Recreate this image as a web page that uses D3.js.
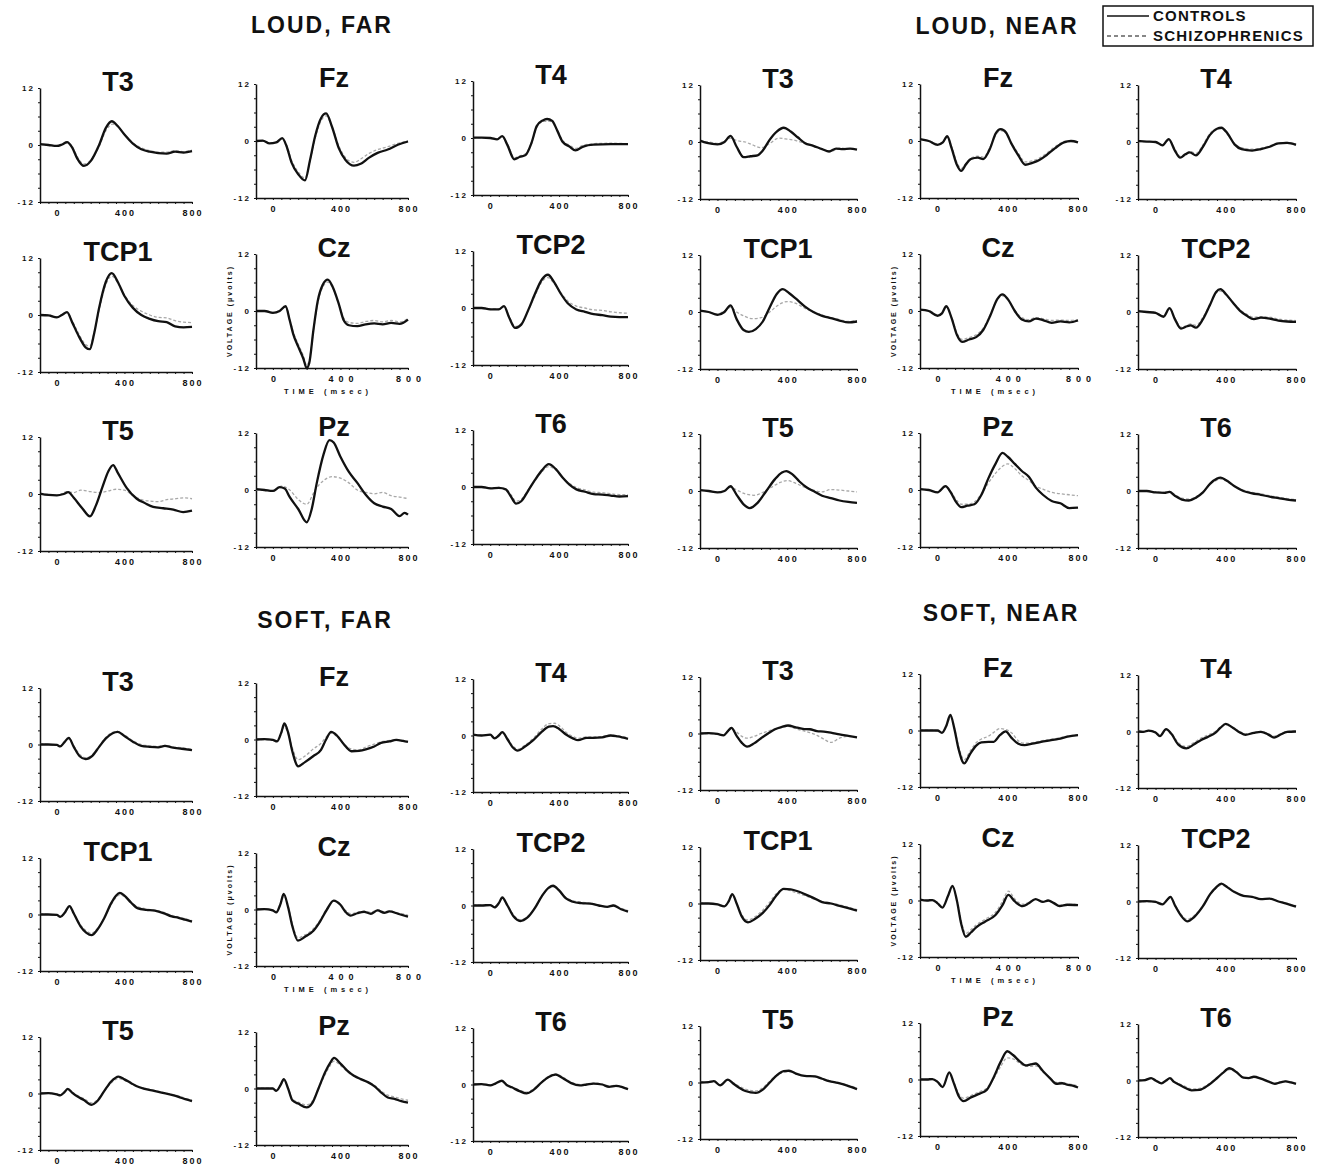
<!DOCTYPE html>
<html>
<head>
<meta charset="utf-8">
<script src="https://cdn.jsdelivr.net/npm/d3@7"></script>
<style>
  body { margin: 0; background: #fff; }
  text { font-family: 'Liberation Sans', Arial, sans-serif; fill: #111; }
</style>
</head>
<body>
<script>
// electrode order inside each 3x3 block
const electrodes = ['T3', 'Fz', 'T4', 'TCP1', 'Cz', 'TCP2', 'T5', 'Pz', 'T6']
const conditions = ['LOUD, FAR', 'LOUD, NEAR', 'SOFT, FAR', 'SOFT, NEAR']
const groups = ['CONTROLS', 'SCHIZOPHRENICS']
const xTicks = [0, 400, 800]
const yTicks = [12, 0, -12]

// [msec, microvolts]
const loudFarControls = [
  [[-100,0.2],[-50,0],[0,-0.2],[30,0.1],[60,0.6],[90,-0.5],[120,-2.8],[160,-4.4],[200,-3.4],[250,0],[290,3.6],[325,5.0],[360,4.0],[400,2.2],[450,0.3],[500,-0.9],[550,-1.4],[600,-1.7],[650,-1.8],[700,-1.4],[750,-1.6],[800,-1.3]],
  [[-100,0],[-60,0.1],[-20,-0.5],[20,-0.3],[55,0.6],[80,-1],[110,-4.5],[150,-7],[190,-8.3],[220,-4],[250,1],[285,4.8],[315,5.8],[350,3],[390,-1.5],[430,-4],[480,-5.2],[520,-4.8],[570,-3.5],[620,-2.5],[680,-1.8],[740,-0.8],[800,-0.1]],
  [[-100,0.1],[-50,0.1],[0,0],[40,-0.3],[70,0.4],[100,-1.5],[140,-4.5],[170,-4],[205,-3.6],[240,-1],[270,2.5],[305,3.7],[330,4.0],[360,3.6],[390,1.5],[420,-0.8],[460,-1.8],[495,-2.6],[540,-1.8],[600,-1.4],[700,-1.3],[800,-1.3]],
  [[-100,0],[-50,-0.1],[0,-0.5],[30,0],[60,0.6],[90,-1.5],[130,-4.5],[170,-6.8],[195,-7.2],[220,-4],[250,1.5],[290,7],[325,8.8],[360,7],[400,4],[450,1.5],[500,0],[550,-0.8],[600,-1.3],[650,-1.5],[700,-2.4],[750,-2.6],[800,-2.5]],
  [[-100,0],[-50,0],[0,-0.4],[40,0],[75,1],[100,-2],[120,-4.8],[150,-7.5],[180,-10],[200,-12],[215,-11],[240,-4],[265,2],[295,5.5],[325,6.6],[355,5],[390,1.5],[420,-2],[450,-3],[500,-3.2],[550,-2.8],[600,-2.6],[650,-2.8],[700,-2.5],[750,-2.7],[800,-1.8]],
  [[-100,0],[-50,0],[0,-0.3],[50,-0.3],[80,0.4],[110,-2],[145,-4.2],[180,-3.5],[220,-0.5],[260,3],[300,6],[335,7],[370,5.5],[410,3],[450,1],[500,-0.3],[550,-0.8],[600,-1.3],[650,-1.5],[700,-1.8],[750,-1.9],[800,-1.9]],
  [[-100,0.1],[-50,-0.2],[0,-0.3],[40,0],[67,0.4],[100,-0.8],[150,-3],[196,-4.7],[230,-2.5],[270,1.5],[305,4.8],[333,6.1],[360,4.5],[413,1.3],[473,-1],[520,-1.9],[570,-2.7],[630,-3],[690,-3.3],[748,-3.8],[800,-3.5]],
  [[-100,0.2],[-50,0],[0,-0.2],[40,0.6],[70,0.3],[100,-1.5],[150,-4],[200,-6.8],[230,-4],[260,1.5],[300,7.5],[335,10.5],[360,10],[400,7],[450,3.8],[500,1.5],[550,-1],[600,-2.8],[650,-3.5],[700,-4],[750,-5.5],[780,-4.8],[800,-5.2]],
  [[-100,0],[-50,0],[0,-0.3],[50,-0.2],[90,-0.5],[120,-2],[150,-3.5],[180,-3],[220,-0.8],[260,1.5],[300,3.5],[340,4.8],[380,3.8],[420,2],[460,0.5],[500,-0.5],[550,-1],[600,-1.5],[650,-1.6],[700,-1.8],[750,-2],[800,-1.9]]
]
const loudFarSchizo = [
  [[-100,0.1],[-50,0.1],[0,-0.3],[30,0],[60,0.4],[90,-0.3],[120,-2.4],[160,-4.0],[200,-3.2],[250,-0.3],[290,3.0],[330,4.4],[365,3.8],[400,2.3],[450,0.5],[500,-0.6],[550,-1.2],[600,-1.5],[650,-1.5],[700,-1.2],[750,-1.4],[800,-1.1]],
  [[-100,0],[-60,0],[-20,-0.4],[20,-0.2],[55,0.5],[80,-0.8],[110,-4],[150,-6.5],[190,-7.8],[220,-4.2],[250,0.5],[285,4.2],[315,5.3],[350,3],[390,-1],[430,-3.5],[480,-4.5],[520,-3.8],[570,-2.6],[620,-1.8],[680,-1.2],[740,-0.5],[800,0]],
  [[-100,0],[-50,0.1],[0,0.1],[40,-0.2],[70,0.3],[100,-1.2],[140,-4.2],[170,-3.8],[205,-3.3],[240,-1],[270,2.2],[310,3.5],[350,3.5],[390,1.6],[420,-0.5],[460,-1.5],[495,-2.2],[540,-1.5],[600,-1.2],[700,-1.1],[800,-1.2]],
  [[-100,0],[-50,0],[0,-0.4],[30,0.1],[60,0.5],[90,-1.2],[130,-4],[170,-6.2],[195,-6.6],[220,-3.8],[250,1],[290,6.4],[325,8.2],[360,6.8],[400,4.2],[450,2],[500,0.8],[550,0],[600,-0.5],[650,-0.6],[700,-1.2],[750,-1.5],[800,-1.6]],
  [[-100,0],[-50,0.1],[0,-0.3],[40,0.1],[75,0.9],[100,-1.8],[120,-4.4],[150,-7],[180,-9.4],[200,-11.4],[215,-10.5],[240,-4.2],[265,1.6],[295,5],[325,6.1],[355,4.8],[390,1.5],[420,-1.5],[450,-2.4],[500,-2.6],[550,-2.2],[600,-2],[650,-2.3],[700,-2],[750,-2.3],[800,-1.6]],
  [[-100,0],[-50,0.1],[0,-0.2],[50,-0.2],[80,0.3],[110,-1.8],[145,-3.9],[180,-3.3],[220,-0.6],[260,2.6],[300,5.5],[335,6.4],[370,5.2],[410,3.2],[450,1.5],[500,0.4],[550,0],[600,-0.4],[650,-0.5],[700,-0.8],[750,-1],[800,-1.1]],
  [[-100,0],[-50,-0.1],[0,-0.3],[60,0.5],[100,0.3],[140,0.8],[200,0.5],[250,0.3],[300,0.6],[350,1.0],[400,0.8],[450,-0.3],[500,-1.2],[550,-1.5],[600,-1.6],[650,-1.2],[700,-1.0],[750,-0.8],[800,-1.0]],
  [[-100,0],[-50,0.1],[0,-0.3],[50,0.8],[100,0],[150,-2],[200,-3],[250,0],[300,2],[350,2.8],[400,2.5],[450,1.5],[500,0],[550,-0.5],[600,-0.8],[650,-0.5],[700,-1.2],[750,-1.5],[800,-1.8]],
  [[-100,0],[-50,0.1],[0,-0.2],[50,-0.1],[90,-0.4],[120,-1.6],[150,-3],[180,-2.6],[220,-0.6],[260,1.4],[300,3.2],[340,4.3],[380,3.6],[420,2],[460,0.8],[500,-0.1],[550,-0.6],[600,-1.1],[650,-1.2],[700,-1.4],[750,-1.6],[800,-1.6]]
]
const loudNearControls = [
  [[-100,0.3],[-60,-0.2],[0,-0.5],[40,0],[75,1.3],[110,-1],[150,-3.2],[190,-3],[230,-2.8],[260,-1.8],[300,0.5],[340,2.2],[380,3],[420,2.2],[460,1],[500,-0.2],[550,-0.8],[600,-1.5],[640,-2],[680,-1.4],[720,-1.5],[760,-1.4],[800,-1.6]],
  [[-100,0.4],[-50,0],[0,-0.8],[30,-0.3],[55,1],[80,-1.5],[110,-5],[135,-6.3],[160,-5],[190,-3.8],[230,-3.5],[260,-3.8],[300,-1.5],[330,1.5],[360,2.5],[390,1.8],[420,-0.5],[460,-3],[500,-5],[540,-4.6],[580,-4],[620,-3],[670,-1.5],[720,-0.3],[760,0],[800,-0.3]],
  [[-100,0.2],[-50,0.1],[0,0],[40,-0.7],[75,0.6],[110,-1.8],[140,-3.3],[170,-2.6],[195,-2.2],[230,-2.8],[270,-1],[310,1.5],[350,2.8],[375,3],[410,1.8],[450,-0.5],[490,-1.5],[550,-1.8],[600,-1.5],[650,-1],[700,-0.3],[750,-0.2],[800,-0.6]],
  [[-100,0.3],[-50,0],[0,-0.6],[40,0],[75,1.4],[110,-1.5],[150,-3.8],[180,-4.2],[220,-3.6],[260,-2],[300,1],[340,3.8],[375,4.8],[410,4],[450,2.8],[500,1.2],[550,0],[600,-0.8],[650,-1.3],[700,-1.8],[750,-2.2],[800,-2]],
  [[-100,0.3],[-50,0],[0,-1],[25,-0.5],[50,1],[80,-1.5],[110,-5],[140,-6.5],[180,-6],[220,-5.5],[260,-4],[300,-1],[340,2.5],[370,3.5],[400,2.5],[440,0],[480,-1.8],[520,-2.2],[560,-1.6],[600,-1.9],[650,-2.5],[700,-2.2],[750,-2.4],[800,-2]],
  [[-100,0.2],[-50,0],[0,-0.2],[45,-1],[80,0.8],[110,-1.5],[145,-3.5],[180,-3],[200,-2.8],[230,-3.3],[270,-1.5],[310,1.5],[345,4.2],[370,4.8],[400,3.8],[440,2],[480,0.3],[520,-0.8],[560,-1.5],[600,-1.2],[650,-1.4],[700,-1.8],[750,-2],[800,-2.1]],
  [[-100,0.2],[-50,0],[0,-0.3],[40,0],[75,1],[110,-0.8],[150,-2.8],[185,-3.6],[230,-2.5],[280,0],[330,2.5],[370,3.9],[395,4.2],[430,3.5],[470,2],[510,0.8],[560,-0.2],[600,-1],[650,-1.5],[700,-2],[750,-2.3],[800,-2.5]],
  [[-100,0.2],[-50,0],[0,-0.5],[45,0.8],[75,-0.5],[105,-2.5],[135,-3.6],[170,-3.3],[210,-3],[250,-1],[290,2.5],[330,5.5],[370,7.8],[400,7],[440,5.5],[480,4],[520,2.8],[560,0.5],[600,-1],[650,-2.3],[700,-2.8],[750,-3.8],[800,-3.7]],
  [[-100,0],[-50,0],[0,-0.3],[50,-0.4],[80,-0.2],[110,-1],[150,-1.8],[190,-2],[230,-1.4],[270,-0.3],[310,1.5],[350,2.6],[370,2.8],[400,2.3],[450,1],[500,0],[550,-0.5],[600,-0.8],[650,-1.2],[700,-1.5],[750,-1.8],[800,-2]]
]
const loudNearSchizo = [
  [[-100,0.2],[-50,0],[0,-0.3],[40,0.2],[75,0.8],[110,0.3],[160,0],[200,-0.6],[250,-1.2],[300,-0.3],[350,0.8],[400,0.6],[450,0.3],[500,-0.3],[550,-0.9],[600,-1.6],[650,-2],[700,-1.3],[750,-1.4],[800,-1.6]],
  [[-100,0.3],[-50,0.1],[0,-0.6],[30,-0.2],[55,0.8],[80,-1.2],[110,-4.5],[135,-5.8],[160,-4.8],[190,-3.6],[230,-3.2],[260,-3.4],[300,-1.2],[330,1.2],[360,2.2],[390,1.6],[420,-0.4],[460,-2.6],[500,-4.4],[540,-4.2],[580,-3.6],[620,-2.6],[670,-1.2],[720,-0.1],[760,0.1],[800,-0.2]],
  [[-100,0.1],[-50,0.1],[0,0.1],[40,-0.5],[75,0.4],[110,-1.5],[140,-3],[170,-2.5],[195,-2],[230,-2.4],[270,-0.6],[310,1.8],[350,2.8],[375,2.8],[410,1.6],[450,-0.3],[490,-1.2],[550,-1.5],[600,-1.3],[650,-0.8],[700,-0.2],[750,-0.1],[800,-0.4]],
  [[-100,0.3],[-50,0],[0,-0.4],[40,0.2],[75,1],[110,0],[150,-0.8],[200,-1.4],[250,-1.2],[300,0],[350,1.5],[400,2.2],[450,1.8],[500,0.8],[550,0],[600,-0.6],[650,-1.2],[700,-1.6],[750,-2],[800,-1.8]],
  [[-100,0.2],[-50,0.1],[0,-0.8],[25,-0.4],[50,0.8],[80,-1.3],[110,-4.6],[140,-6],[180,-5.6],[220,-5],[260,-3.6],[300,-0.8],[340,2.4],[370,3.2],[400,2.4],[440,0.2],[480,-1.4],[520,-1.8],[560,-1.4],[600,-1.6],[650,-2],[700,-1.9],[750,-2],[800,-1.8]],
  [[-100,0.1],[-50,0],[0,-0.1],[45,-0.8],[80,0.6],[110,-1.3],[145,-3.2],[180,-2.8],[200,-2.5],[230,-2.8],[270,-1.1],[310,1.6],[345,4],[370,4.4],[400,3.6],[440,2],[480,0.5],[520,-0.5],[560,-1.1],[600,-1],[650,-1.1],[700,-1.5],[750,-1.7],[800,-1.8]],
  [[-100,0.2],[-50,0],[0,-0.3],[40,0.1],[75,0.8],[110,0.2],[160,-0.6],[210,-0.9],[260,-0.3],[310,0.8],[360,1.8],[400,2.2],[450,1.6],[500,0.8],[550,0.2],[600,-0.2],[650,0.3],[700,0.2],[750,0],[800,-0.2]],
  [[-100,0.2],[-50,0],[0,-0.4],[45,0.7],[75,-0.3],[105,-2],[135,-3],[170,-3],[210,-2.5],[250,-0.8],[290,1.5],[330,3.5],[370,5],[400,5.5],[440,4.5],[480,3],[520,2],[560,0.8],[600,0.2],[650,-0.5],[700,-0.8],[750,-1],[800,-1.2]],
  [[-100,0.1],[-50,0],[0,-0.2],[50,-0.3],[80,-0.1],[110,-0.8],[150,-1.5],[190,-1.7],[230,-1.2],[270,-0.2],[310,1.4],[350,2.3],[370,2.5],[400,2.1],[450,1],[500,0.2],[550,-0.3],[600,-0.6],[650,-1],[700,-1.3],[750,-1.6],[800,-1.8]]
]
const softFarControls = [
  [[-100,0],[-50,0],[0,-0.1],[20,-0.4],[45,0.5],[70,1.4],[100,-0.5],[135,-2.5],[170,-3.1],[210,-2.4],[250,-0.5],[290,1.3],[330,2.4],[360,2.7],[400,1.8],[450,0.6],[500,-0.3],[550,-0.5],[600,-0.6],[640,-0.3],[680,-0.6],[740,-0.9],[800,-1.2]],
  [[-100,0],[-50,0.1],[0,-0.1],[25,-0.4],[50,1.5],[68,3.4],[90,1.5],[115,-2.5],[150,-5.7],[190,-4.8],[240,-3.5],[285,-2.2],[315,0],[345,1.6],[380,0.8],[420,-1],[465,-2.5],[510,-2.4],[550,-2.1],[600,-1.5],[640,-0.7],[690,-0.4],[730,-0.1],[770,-0.3],[800,-0.5]],
  [[-100,0.2],[-50,0],[0,0.2],[25,-0.6],[50,0],[70,0.7],[100,-0.8],[130,-2.5],[160,-3.2],[200,-2.4],[250,-1],[300,0.8],[340,1.9],[365,2],[400,1.4],[440,0.2],[480,-0.6],[510,-1],[560,-0.5],[600,-0.5],[650,-0.4],[700,0],[740,-0.2],[800,-0.7]],
  [[-100,0],[-50,0],[0,-0.1],[20,-0.5],[45,0.3],[75,1.8],[100,0.2],[140,-2.5],[175,-3.9],[205,-4.4],[240,-3.2],[280,-0.8],[320,2.3],[350,4],[372,4.6],[400,4],[440,2.5],[480,1.3],[530,1],[580,0.8],[630,0.3],[680,-0.4],[720,-0.7],[760,-1.1],[800,-1.5]],
  [[-100,0],[-50,0.1],[0,-0.2],[20,-0.6],[45,1.2],[64,3.3],[90,0.5],[115,-3.5],[148,-6.6],[190,-5.8],[240,-4.5],[280,-2.5],[320,0],[360,1.9],[400,1],[430,-0.5],[460,-1.3],[500,-0.8],[540,-0.5],[580,-0.9],[620,-0.2],[660,-0.7],[690,-0.4],[740,-0.9],[800,-1.5]],
  [[-100,0],[-50,0],[0,0.1],[25,-0.4],[50,0.5],[70,1.7],[100,0],[135,-2.3],[175,-3.3],[215,-2.6],[260,-0.5],[300,2],[340,3.8],[365,4.2],[400,3.2],[440,1.5],[480,0.8],[530,0.5],[580,0.4],[630,0],[680,-0.3],[715,0],[760,-0.8],[800,-1.3]],
  [[-100,0],[-50,0.1],[0,-0.2],[20,-0.4],[45,0.3],[65,1],[90,0.2],[120,-0.6],[160,-1.4],[205,-2.4],[240,-1.6],[280,0.5],[320,2.5],[365,3.6],[400,3],[440,2.2],[470,1.6],[520,1],[570,0.6],[620,0.2],[680,-0.3],[720,-0.7],[760,-1.2],[800,-1.6]],
  [[-100,0],[-50,0],[0,0],[20,-0.5],[45,0.7],[65,2],[90,0],[115,-2.5],[150,-3.2],[200,-4],[235,-3],[270,0],[310,3.5],[340,5.5],[362,6.5],[400,5.3],[440,3.8],[480,2.7],[520,2],[565,1.3],[600,0.5],[640,-0.8],[680,-1.9],[720,-2.2],[760,-2.7],[800,-3]],
  [[-100,0],[-50,0.1],[0,-0.2],[30,0.2],[68,0.8],[95,-0.1],[125,-0.6],[170,-1.4],[210,-1.9],[250,-1.2],[300,0.5],[340,1.6],[380,2.1],[420,1.4],[470,0.3],[520,-0.2],[560,0],[600,0.2],[650,0],[690,-0.5],[730,-0.3],[770,-0.6],[800,-1]]
]
const softFarSchizo = [
  [[-100,0.1],[-50,0],[0,-0.2],[20,-0.3],[45,0.4],[70,1.2],[100,-0.3],[135,-2.1],[170,-2.8],[210,-2.2],[250,-0.4],[290,1.5],[330,2.6],[360,2.8],[400,2],[450,0.8],[500,0],[550,-0.3],[600,-0.4],[640,-0.2],[680,-0.5],[740,-0.7],[800,-1]],
  [[-100,0],[-50,0],[0,-0.2],[25,-0.3],[50,1.2],[68,2.8],[90,1.2],[115,-1.8],[150,-4.3],[190,-3.5],[240,-2],[285,-0.8],[315,0.5],[345,1.3],[380,0.6],[420,-1],[465,-2],[510,-2.2],[550,-1.6],[600,-1],[640,-0.5],[690,-0.2],[730,0],[770,-0.2],[800,-0.4]],
  [[-100,0.1],[-50,0.1],[0,0.1],[25,-0.5],[50,0.1],[70,0.6],[100,-0.6],[130,-2.2],[160,-2.9],[200,-2.1],[250,-0.6],[300,1.4],[340,2.5],[375,2.6],[410,1.8],[440,0.7],[480,-0.2],[510,-0.6],[560,-0.3],[600,-0.3],[650,-0.2],[700,0.1],[740,-0.1],[800,-0.5]],
  [[-100,0.1],[-50,0],[0,-0.2],[20,-0.4],[45,0.3],[75,1.6],[100,0.3],[140,-2.2],[175,-3.5],[205,-4],[240,-3],[280,-0.8],[320,2],[350,3.6],[372,4.2],[400,3.8],[440,2.6],[480,1.6],[530,1.2],[580,0.9],[630,0.5],[680,-0.2],[720,-0.5],[760,-0.9],[800,-1.3]],
  [[-100,0.1],[-50,0.1],[0,-0.3],[20,-0.5],[45,1],[64,2.9],[90,0.6],[115,-3],[148,-6],[190,-5.4],[240,-4.1],[280,-2.2],[320,0.2],[360,1.8],[400,1.1],[430,-0.2],[460,-0.9],[500,-0.6],[540,-0.3],[580,-0.6],[620,-0.1],[660,-0.5],[690,-0.3],[740,-0.7],[800,-1.2]],
  [[-100,0],[-50,0.1],[0,0.1],[25,-0.3],[50,0.4],[70,1.5],[100,0.1],[135,-2],[175,-3],[215,-2.4],[260,-0.4],[300,2],[340,3.6],[365,4],[400,3.2],[440,1.7],[480,1],[530,0.7],[580,0.5],[630,0.1],[680,-0.2],[715,0.1],[760,-0.6],[800,-1.1]],
  [[-100,0.1],[-50,0],[0,-0.1],[20,-0.3],[45,0.3],[65,0.8],[90,0.3],[120,-0.4],[160,-1.1],[205,-2],[240,-1.3],[280,0.5],[320,2.2],[365,3.2],[400,2.8],[440,2.1],[470,1.6],[520,1.1],[570,0.7],[620,0.3],[680,-0.2],[720,-0.5],[760,-1],[800,-1.4]],
  [[-100,0],[-50,0.1],[0,0],[20,-0.4],[45,0.6],[65,1.7],[90,0.1],[115,-2.2],[150,-2.9],[200,-3.5],[235,-2.6],[270,0],[310,3],[340,4.9],[362,5.8],[400,4.9],[440,3.6],[480,2.6],[520,2],[565,1.4],[600,0.7],[640,-0.5],[680,-1.4],[720,-1.8],[760,-2.2],[800,-2.5]],
  [[-100,0.1],[-50,0],[0,-0.1],[30,0.2],[68,0.6],[95,0],[125,-0.5],[170,-1.2],[210,-1.6],[250,-1],[300,0.6],[340,1.8],[380,2.3],[420,1.6],[470,0.5],[520,0],[560,0.1],[600,0.3],[650,0.1],[690,-0.3],[730,-0.2],[770,-0.5],[800,-0.8]]
]
const softNearControls = [
  [[-100,0],[-50,0.1],[0,-0.1],[35,-0.4],[60,0.5],[80,1.2],[110,-0.5],[140,-2],[170,-2.8],[210,-2.1],[250,-1],[290,0],[330,0.9],[370,1.4],[405,1.7],[450,1.3],[490,1],[530,0.9],[570,0.5],[610,0.4],[650,0.2],[700,-0.2],[750,-0.5],[800,-0.8]],
  [[-100,0],[-50,0],[0,0],[25,-0.5],[50,1],[73,3.3],[95,0.5],[120,-4],[152,-7],[185,-5],[220,-3.2],[250,-2.5],[290,-2.4],[320,-2.4],[355,-1],[388,-0.2],[420,-1.5],[460,-2.8],[495,-3.1],[540,-2.8],[590,-2.4],[640,-2.1],[690,-1.8],[740,-1.3],[800,-1]],
  [[-100,0],[-70,-0.1],[-40,0.2],[0,-0.2],[25,-1],[60,0.5],[90,-0.5],[130,-2.8],[175,-3.6],[220,-2.7],[260,-1.8],[300,-1.1],[340,-0.3],[370,0.8],[400,1.6],[440,0.8],[480,-0.2],[512,-0.7],[560,-0.3],[600,-0.1],[640,-0.6],[675,-1.3],[710,-0.7],[750,-0.1],[800,0]],
  [[-100,0],[-50,0],[0,-0.2],[40,-0.6],[65,0.5],[85,2],[110,0],[140,-2.8],[175,-4],[215,-3.3],[260,-2],[300,-0.3],[340,1.8],[380,3.1],[420,3],[460,2.6],[500,2],[550,1.2],[600,0.3],[650,0],[700,-0.5],[750,-1],[800,-1.5]],
  [[-100,0.2],[-60,0],[-30,0.1],[0,-0.6],[28,-1.5],[60,1],[85,3.1],[110,0],[135,-5],[161,-7.7],[190,-6.8],[220,-5.7],[270,-4.5],[330,-3.1],[370,-1],[403,1.2],[440,-0.2],[485,-1.2],[520,-0.6],[558,0.3],[600,-0.3],[630,0],[660,-0.5],[695,-1.2],[740,-0.9],[800,-1]],
  [[-100,0],[-50,0.1],[0,-0.1],[40,-0.6],[65,0.3],[85,1],[110,-0.8],[145,-3],[180,-4.2],[220,-3.3],[270,-1],[310,1.5],[345,3],[375,3.8],[410,3],[450,2],[500,1.2],[550,1],[600,0.5],[650,0.6],[700,0],[750,-0.5],[800,-1.1]],
  [[-100,0],[-50,0.1],[-20,0.3],[15,-0.6],[60,0.6],[90,-0.2],[120,-1],[160,-1.8],[220,-2.2],[260,-1.5],[300,0],[340,1.5],[380,2.4],[410,2.5],[450,1.9],[500,1.4],[560,1.3],[600,0.8],[640,0.3],[690,-0.1],[740,-0.6],[800,-1.4]],
  [[-100,0],[-60,0],[-30,0.1],[0,-0.5],[29,-1.6],[67,1.5],[90,-0.5],[120,-3.5],[149,-4.6],[190,-3.8],[240,-3],[280,-2.2],[320,0.5],[360,3.8],[397,6],[430,5.2],[470,3.8],[502,3],[530,3.2],[559,3.4],[600,1.8],[640,0.3],[676,-0.9],[710,-0.8],[738,-1.1],[770,-1.3],[800,-1.7]],
  [[-100,0],[-60,0.1],[-25,0.5],[0,0],[34,-0.6],[60,0],[82,0.5],[105,-0.3],[130,-0.8],[170,-1.6],[205,-2.1],[250,-2],[300,-1],[340,0.2],[380,1.5],[420,2.6],[460,1.8],[500,0.6],[530,0.5],[560,0.8],[600,0.4],[640,-0.2],[680,-0.7],[710,-0.4],[740,-0.2],[770,-0.4],[800,-0.7]]
]
const softNearSchizo = [
  [[-100,0],[-50,0],[0,-0.2],[35,-0.3],[60,0.5],[80,1],[110,0.3],[140,-0.6],[170,-1],[210,-0.6],[250,0],[290,0.5],[330,1],[370,1.3],[405,1.5],[450,1],[490,0.6],[530,0.2],[570,-0.4],[610,-1.2],[650,-1.9],[700,-1],[750,-0.6],[800,-0.9]],
  [[-100,0],[-50,0.1],[0,-0.1],[25,-0.4],[50,0.8],[73,2.8],[95,0.6],[120,-3.4],[152,-6.2],[185,-4.4],[220,-2.6],[250,-1.8],[290,-1.2],[320,-0.4],[355,0.4],[388,0.2],[425,-0.6],[460,-2.2],[495,-2.7],[540,-2.6],[590,-2.2],[640,-1.9],[690,-1.6],[740,-1.2],[800,-0.9]],
  [[-100,0.1],[-70,0],[-40,0.2],[0,-0.1],[25,-0.8],[60,0.4],[90,-0.3],[130,-2.4],[175,-3.2],[220,-2.3],[260,-1.4],[300,-0.7],[340,0],[370,0.9],[400,1.4],[440,0.8],[480,0],[512,-0.5],[560,-0.2],[600,0],[640,-0.4],[675,-1],[710,-0.5],[750,0],[800,0.1]],
  [[-100,0.1],[-50,0],[0,-0.1],[40,-0.5],[65,0.4],[85,1.7],[110,0.1],[140,-2.4],[175,-3.5],[215,-2.8],[260,-1.4],[300,0.3],[340,2.2],[380,3],[420,2.7],[460,2.2],[500,1.7],[550,1],[600,0.4],[650,0.1],[700,-0.3],[750,-0.8],[800,-1.3]],
  [[-100,0.1],[-60,0],[-30,0.1],[0,-0.5],[28,-1.2],[60,0.9],[85,2.8],[110,0.2],[135,-4.4],[161,-7],[190,-6.2],[220,-5.2],[270,-4],[330,-2.5],[370,-0.2],[403,2],[440,0.3],[485,-0.8],[520,-0.4],[558,0.3],[600,-0.2],[630,0],[660,-0.4],[695,-1],[740,-0.8],[800,-0.9]],
  [[-100,0],[-50,0],[0,0],[40,-0.5],[65,0.3],[85,0.9],[110,-0.6],[145,-2.7],[180,-3.8],[220,-3],[270,-0.9],[310,1.4],[345,2.8],[375,3.5],[410,2.9],[450,2],[500,1.3],[550,1],[600,0.6],[650,0.6],[700,0.1],[750,-0.4],[800,-0.9]],
  [[-100,0.1],[-50,0],[-20,0.2],[15,-0.5],[60,0.5],[90,0],[120,-0.7],[160,-1.4],[220,-1.8],[260,-1.1],[300,0.3],[340,1.6],[380,2.2],[410,2.3],[450,1.8],[500,1.4],[560,1.2],[600,0.8],[640,0.4],[690,0],[740,-0.5],[800,-1.2]],
  [[-100,0.1],[-60,0],[-30,0.1],[0,-0.4],[29,-1.3],[67,1.2],[90,-0.3],[120,-3],[149,-4],[190,-3.4],[240,-2.6],[280,-1.8],[320,0.2],[360,2.8],[397,4.6],[430,4.4],[470,3.4],[502,2.8],[530,2.8],[559,2.9],[600,1.6],[640,0.4],[676,-0.6],[710,-0.6],[738,-0.9],[770,-1.1],[800,-1.4]],
  [[-100,0.1],[-60,0],[-25,0.4],[0,0.1],[34,-0.5],[60,0.1],[82,0.4],[105,-0.2],[130,-0.6],[170,-1.3],[205,-1.8],[250,-1.7],[300,-0.8],[340,0.3],[380,1.4],[420,2.3],[460,1.7],[500,0.7],[530,0.5],[560,0.7],[600,0.4],[640,-0.1],[680,-0.5],[710,-0.3],[740,-0.1],[770,-0.3],[800,-0.6]]
]

const controlsByCondition = [loudFarControls, loudNearControls, softFarControls, softNearControls]
const schizoByCondition = [loudFarSchizo, loudNearSchizo, softFarSchizo, softNearSchizo]

// page layout (the scan is slightly skewed, so columns drift a little)
const colX = [40, 256, 473, 700, 920, 1138]
const colW = [152, 152, 155, 157, 158, 158]
const rowTop = [[88, 258, 437], [688, 858, 1037]]
const colShift = [[0, -4, -7, -3, -4, -3], [0, -5, -9, -11, -14, -13]]
const plotH = [114, 113]
const condTitlePos = [[322, 33], [997, 34], [325, 628], [1001, 621]]

const svg = d3.select('body').append('svg')
  .attr('width', 1328)
  .attr('height', 1167)

conditions.forEach((cond, ci) => {
  svg.append('text')
    .text(cond)
    .attr('x', condTitlePos[ci][0])
    .attr('y', condTitlePos[ci][1])
    .attr('text-anchor', 'middle')
    .style('font-size', '23px')
    .style('font-weight', 'bold')
    .style('letter-spacing', '2px')

  const block = ci < 2 ? 0 : 1
  const colStart = (ci % 2) * 3

  electrodes.forEach((el, ei) => {
    const r = Math.floor(ei / 3)
    const c = colStart + (ei % 3)
    const x0 = colX[c]
    const w = colW[c]
    const top = rowTop[block][r] + colShift[block][c]
    const h = plotH[block]
    const isCz = el === 'Cz'

    const x = d3.scaleLinear().domain([-100, 800]).range([x0, x0 + w])
    const y = d3.scaleLinear().domain([-12, 12]).range([top + h, top])

    const g = svg.append('g')

    g.append('text')
      .text(el)
      .attr('x', x0 + 78)
      .attr('y', top + 3)
      .attr('text-anchor', 'middle')
      .style('font-size', '27px')
      .style('font-weight', 'bold')

    // axes with small ticks, labels drawn separately
    g.append('g')
      .attr('transform', `translate(${x0},0)`)
      .call(d3.axisLeft(y).tickValues(d3.range(-12, 13, 3)).tickSize(2).tickSizeOuter(0).tickFormat(''))
    g.append('g')
      .attr('transform', `translate(0,${top + h})`)
      .call(d3.axisBottom(x).tickValues(d3.range(-100, 801, 50)).tickSize(2).tickSizeOuter(0).tickFormat(''))
    g.selectAll('.domain').attr('stroke', '#111').attr('stroke-width', 1.5)
    g.selectAll('.tick line').attr('stroke', '#111')

    g.selectAll('.ylab')
      .data(yTicks)
      .enter()
      .append('text')
      .text(d => d)
      .attr('x', x0 - 5)
      .attr('y', d => y(d) + 3)
      .attr('text-anchor', 'end')
      .style('font-size', '8px')
      .style('font-weight', 'bold')
      .style('letter-spacing', '2px')

    g.selectAll('.xlab')
      .data(xTicks)
      .enter()
      .append('text')
      .text(d => d)
      .attr('x', d => x(d) + (isCz ? 3 : 1))
      .attr('y', top + h + 14)
      .attr('text-anchor', 'middle')
      .style('font-size', '9px')
      .style('font-weight', 'bold')
      .style('letter-spacing', isCz ? '5px' : '2px')

    if (isCz) {
      g.append('text')
        .text('VOLTAGE (μvolts)')
        .attr('transform', `translate(${x0 - 24},${top + h / 2}) rotate(-90)`)
        .attr('text-anchor', 'middle')
        .style('font-size', '7px')
        .style('font-weight', 'bold')
        .style('letter-spacing', '2px')
      g.append('text')
        .text('TIME (msec)')
        .attr('x', x0 + w / 2 - 4)
        .attr('y', top + h + 26)
        .attr('text-anchor', 'middle')
        .style('font-size', '7.5px')
        .style('font-weight', 'bold')
        .style('letter-spacing', '4px')
    }

    const line = d3.line()
      .x(d => x(d[0]))
      .y(d => y(d[1]))
      .curve(d3.curveMonotoneX)

    g.append('path')
      .attr('d', line(schizoByCondition[ci][ei]))
      .attr('fill', 'none')
      .attr('stroke', '#a8a8a8')
      .attr('stroke-width', 1.3)
      .attr('stroke-dasharray', '3,2')

    g.append('path')
      .attr('d', line(controlsByCondition[ci][ei]))
      .attr('fill', 'none')
      .attr('stroke', '#111')
      .attr('stroke-width', 2.3)
      .attr('stroke-linejoin', 'round')
  })
})

// legend box
const legend = svg.append('g')
legend.append('rect')
  .attr('x', 1103)
  .attr('y', 6)
  .attr('width', 210)
  .attr('height', 40)
  .attr('fill', 'none')
  .attr('stroke', '#111')
  .attr('stroke-width', 1.5)
groups.forEach((name, i) => {
  legend.append('line')
    .attr('x1', 1107)
    .attr('x2', 1149)
    .attr('y1', 16 + i * 20)
    .attr('y2', 16 + i * 20)
    .attr('stroke', '#111')
    .attr('stroke-width', i === 0 ? 1.6 : 1.2)
    .attr('stroke-dasharray', i === 0 ? null : '4,3')
  legend.append('text')
    .text(name)
    .attr('x', 1153)
    .attr('y', 21 + i * 20)
    .style('font-size', '15px')
    .style('font-weight', 'bold')
    .style('letter-spacing', '1.2px')
})
</script>
</body>
</html>
